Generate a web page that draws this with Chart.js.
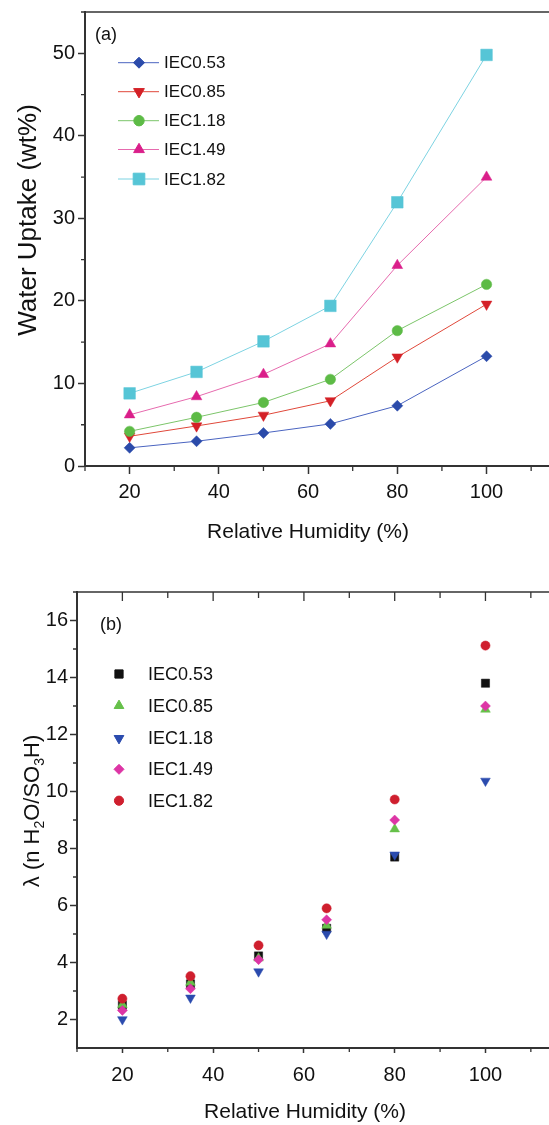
<!DOCTYPE html>
<html><head><meta charset="utf-8">
<script src="https://cdn.jsdelivr.net/npm/chart.js@4/dist/chart.umd.min.js"></script>
<style>
html,body{margin:0;padding:0;background:#fff;width:549px;height:1125px;overflow:hidden}
.box{position:absolute;left:0;width:549px}
#wa{top:0;height:560px}
#wb{top:560px;height:565px}
canvas{display:block}
</style></head><body>
<div class="box" id="wa"><canvas id="ca" width="549" height="560"></canvas></div>
<div class="box" id="wb"><canvas id="cb" width="549" height="565"></canvas></div>
<script>
// ---------- data ----------
const humidity = [20, 35, 50, 65, 80, 100];
const seriesNames = ['IEC0.53', 'IEC0.85', 'IEC1.18', 'IEC1.49', 'IEC1.82'];

// (a) water uptake, wt%
const uptake053 = [2.2, 3.0, 4.0, 5.1, 7.3, 13.3];
const uptake085 = [3.6, 4.85, 6.15, 7.9, 13.2, 19.6];
const uptake118 = [4.2, 5.9, 7.7, 10.5, 16.4, 22.0];
const uptake149 = [6.2, 8.4, 11.1, 14.8, 24.3, 35.0];
const uptake182 = [8.8, 11.4, 15.1, 19.4, 31.95, 49.8];

// (b) lambda, n H2O/SO3H
const lambda053 = [2.5, 3.25, 4.23, 5.2, 7.7, 13.8];
const lambda085 = [2.52, 3.3, 4.15, 5.3, 8.68, 12.88];
const lambda118 = [2.0, 2.76, 3.68, 5.0, 7.78, 10.37];
const lambda149 = [2.32, 3.08, 4.1, 5.5, 9.0, 13.0];
const lambda182 = [2.73, 3.52, 4.6, 5.9, 9.72, 15.12];

// ticks
const xTicks = [20, 40, 60, 80, 100];
const xMinorTicks = [10, 30, 50, 70, 90, 110];
const uptakeTicks = [0, 10, 20, 30, 40, 50];
const uptakeMinorTicks = [5, 15, 25, 35, 45, 55];
const lambdaTicks = [2, 4, 6, 8, 10, 12, 14, 16];
const lambdaMinorTicks = [3, 5, 7, 9, 11, 13, 15, 17];

// ---------- styles ----------
const FONT = '"Liberation Sans", Arial, Helvetica, sans-serif';
const AXIS = '#333333';
const TXT = '#111111';

const styleA = [
  {mark: '#2B4BAA', line: '#4A64C0', shape: 'rectRot', r: 5.5, rot: 0},
  {mark: '#D42027', line: '#E0483A', shape: 'triangle', r: 6.2, rot: 180},
  {mark: '#5DBB46', line: '#7CC56A', shape: 'circle', r: 5.2, rot: 0},
  {mark: '#DA1F8A', line: '#E66AAE', shape: 'triangle', r: 6.2, rot: 0},
  {mark: '#56C5D6', line: '#7DD3E2', shape: 'rect', r: 8.2, rot: 0}
];
const styleB = [
  {mark: '#111111', shape: 'rect', r: 5.8, rot: 0},
  {mark: '#66C04A', shape: 'triangle', r: 5.6, rot: 0},
  {mark: '#2B4BAE', shape: 'triangle', r: 5.6, rot: 180},
  {mark: '#DD35A5', shape: 'rectRot', r: 5.0, rot: 0},
  {mark: '#CF1F2E', shape: 'circle', r: 4.6, rot: 0}
];

const uptakeSeries = [uptake053, uptake085, uptake118, uptake149, uptake182];
const lambdaSeries = [lambda053, lambda085, lambda118, lambda149, lambda182];

function pts(vals) { return humidity.map((x, j) => ({x: x, y: vals[j]})); }

function zeroPad(s) { s.paddingLeft = 0; s.paddingRight = 0; s.paddingTop = 0; s.paddingBottom = 0; }

function drawMinorTicks(chart, cfg) {
  const ctx = chart.ctx, a = chart.chartArea;
  const xs = chart.scales.x, ys = chart.scales.y;
  ctx.save();
  ctx.strokeStyle = AXIS; ctx.lineWidth = 1.5;
  ctx.beginPath();
  ctx.moveTo(a.left - 1, a.top); ctx.lineTo(a.right + 2, a.top);
  ctx.stroke();
  ctx.lineWidth = 1.3;
  ctx.beginPath();
  cfg.xMinor.forEach(v => {
    const p = xs.getPixelForValue(v);
    if (p < a.left - 0.5 || p > a.right) return;
    ctx.moveTo(p, a.bottom); ctx.lineTo(p, a.bottom + cfg.xMinorLen);
    if (cfg.topTicks) { ctx.moveTo(p, a.top); ctx.lineTo(p, a.top + cfg.topMinorLen); }
  });
  if (cfg.topTicks) {
    cfg.xMajor.forEach(v => {
      const p = xs.getPixelForValue(v);
      ctx.moveTo(p, a.top); ctx.lineTo(p, a.top + cfg.topMajorLen);
    });
  }
  cfg.yMinor.forEach(v => {
    const p = ys.getPixelForValue(v);
    if (p < a.top - 0.5 || p > a.bottom + 0.5) return;
    ctx.moveTo(a.left, p); ctx.lineTo(a.left - cfg.yMinorLen, p);
  });
  ctx.stroke();
  ctx.restore();
}

function drawMarker(ctx, st, x, y) {
  ctx.fillStyle = st.mark; ctx.strokeStyle = st.mark;
  Chart.helpers.drawPoint(ctx, {pointStyle: st.shape, radius: st.r, rotation: st.rot, borderWidth: 0.5}, x, y);
}

// ---------- chart (a) ----------
const decorA = {
  id: 'decorA',
  afterDraw(chart) {
    const ctx = chart.ctx;
    drawMinorTicks(chart, {xMinor: xMinorTicks, xMajor: xTicks, yMinor: uptakeMinorTicks, xMinorLen: 5, yMinorLen: 4, topTicks: false});
    ctx.save();
    ctx.fillStyle = TXT;
    ctx.font = '18px ' + FONT; ctx.textAlign = 'left'; ctx.textBaseline = 'middle';
    ctx.fillText('(a)', 95, 35);
    const rows = [62.7, 91.7, 120.7, 149.5, 179];
    seriesNames.forEach((n, i) => {
      const st = styleA[i], y = rows[i];
      ctx.strokeStyle = st.line; ctx.lineWidth = 1;
      ctx.beginPath(); ctx.moveTo(118, y); ctx.lineTo(159, y); ctx.stroke();
      drawMarker(ctx, st, 139, y);
      ctx.fillStyle = TXT; ctx.font = '17px ' + FONT; ctx.textAlign = 'left'; ctx.textBaseline = 'middle';
      ctx.fillText(n, 164, y + 1);
    });
    ctx.fillStyle = TXT;
    ctx.font = '21px ' + FONT; ctx.textAlign = 'center'; ctx.textBaseline = 'middle';
    ctx.fillText('Relative Humidity (%)', 308, 532);
    ctx.save();
    ctx.translate(29, 220); ctx.rotate(-Math.PI / 2);
    ctx.font = '26px ' + FONT;
    ctx.fillText('Water Uptake (wt%)', 0, 0);
    ctx.restore();
    ctx.restore();
  }
};

new Chart(document.getElementById('ca'), {
  type: 'line',
  data: {
    datasets: uptakeSeries.map((d, i) => ({
      label: seriesNames[i],
      data: pts(d),
      borderColor: styleA[i].line,
      backgroundColor: styleA[i].mark,
      pointBackgroundColor: styleA[i].mark,
      pointBorderColor: styleA[i].mark,
      pointBorderWidth: 0.5,
      pointStyle: styleA[i].shape,
      pointRadius: styleA[i].r,
      pointRotation: styleA[i].rot,
      borderWidth: 1,
      tension: 0,
      fill: false,
      clip: 10,
      order: 4 - i
    }))
  },
  options: {
    responsive: false, animation: false,
    layout: {autoPadding: false, padding: {top: 12, left: 0, right: 0, bottom: 0}},
    plugins: {legend: {display: false}, tooltip: {enabled: false}},
    scales: {
      x: {
        type: 'linear', min: 10, max: 114,
        afterBuildTicks: s => { s.ticks = xTicks.map(v => ({value: v})); },
        afterFit: s => { s.height = 94; zeroPad(s); },
        grid: {drawOnChartArea: false, tickLength: 8, tickColor: AXIS, tickWidth: 1.5},
        border: {color: AXIS, width: 2},
        ticks: {font: {family: FONT, size: 20}, color: TXT, padding: 6, maxRotation: 0, autoSkip: false}
      },
      y: {
        type: 'linear', min: 0, max: 55,
        afterBuildTicks: s => { s.ticks = uptakeTicks.map(v => ({value: v})); },
        afterFit: s => { s.width = 85; zeroPad(s); },
        grid: {drawOnChartArea: false, tickLength: 7, tickColor: AXIS, tickWidth: 1.5},
        border: {color: AXIS, width: 2},
        ticks: {font: {family: FONT, size: 20}, color: TXT, padding: 3, autoSkip: false}
      }
    }
  },
  plugins: [decorA]
});

// ---------- chart (b) ----------
const decorB = {
  id: 'decorB',
  afterDraw(chart) {
    const ctx = chart.ctx;
    drawMinorTicks(chart, {xMinor: xMinorTicks, xMajor: xTicks, yMinor: lambdaMinorTicks, xMinorLen: 4, yMinorLen: 4,
      topTicks: true, topMajorLen: 9, topMinorLen: 6});
    ctx.save();
    ctx.fillStyle = TXT;
    ctx.font = '18px ' + FONT; ctx.textAlign = 'left'; ctx.textBaseline = 'middle';
    ctx.fillText('(b)', 100, 65);
    const rows = [114, 145.7, 178.3, 209.3, 240.7];
    seriesNames.forEach((n, i) => {
      const st = styleB[i], y = rows[i];
      drawMarker(ctx, st, 119, y);
      ctx.fillStyle = TXT; ctx.font = '18px ' + FONT; ctx.textAlign = 'left'; ctx.textBaseline = 'middle';
      ctx.fillText(n, 148, y + 1);
    });
    ctx.fillStyle = TXT;
    ctx.font = '21px ' + FONT; ctx.textAlign = 'center'; ctx.textBaseline = 'middle';
    ctx.fillText('Relative Humidity (%)', 305, 552);
    ctx.save();
    ctx.translate(31, 251); ctx.rotate(-Math.PI / 2);
    const main = '22px ' + FONT, sub = '14px ' + FONT;
    const parts = [['\u03BB (n H', main, 0], ['2', sub, 5], ['O/SO', main, 0], ['3', sub, 5], ['H)', main, 0]];
    let total = 0;
    parts.forEach(p => { ctx.font = p[1]; total += ctx.measureText(p[0]).width; });
    let x = -total / 2;
    ctx.textAlign = 'left'; ctx.textBaseline = 'alphabetic';
    parts.forEach(p => { ctx.font = p[1]; ctx.fillText(p[0], x, 8 + p[2]); x += ctx.measureText(p[0]).width; });
    ctx.restore();
    ctx.restore();
  }
};

new Chart(document.getElementById('cb'), {
  type: 'scatter',
  data: {
    datasets: lambdaSeries.map((d, i) => ({
      label: seriesNames[i],
      data: pts(d),
      backgroundColor: styleB[i].mark,
      borderColor: styleB[i].mark,
      pointBackgroundColor: styleB[i].mark,
      pointBorderColor: styleB[i].mark,
      pointBorderWidth: 0.5,
      pointStyle: styleB[i].shape,
      pointRadius: styleB[i].r,
      pointRotation: styleB[i].rot,
      showLine: false,
      clip: 10,
      order: 4 - i
    }))
  },
  options: {
    responsive: false, animation: false,
    layout: {autoPadding: false, padding: {top: 32, left: 0, right: 0, bottom: 0}},
    plugins: {legend: {display: false}, tooltip: {enabled: false}},
    scales: {
      x: {
        type: 'linear', min: 10, max: 114,
        afterBuildTicks: s => { s.ticks = xTicks.map(v => ({value: v})); },
        afterFit: s => { s.height = 77; zeroPad(s); },
        grid: {drawOnChartArea: false, tickLength: 5, tickColor: AXIS, tickWidth: 1.5},
        border: {color: AXIS, width: 2},
        ticks: {font: {family: FONT, size: 20}, color: TXT, padding: 10, maxRotation: 0, autoSkip: false}
      },
      y: {
        type: 'linear', min: 1, max: 17,
        afterBuildTicks: s => { s.ticks = lambdaTicks.map(v => ({value: v})); },
        afterFit: s => { s.width = 77; zeroPad(s); },
        grid: {drawOnChartArea: false, tickLength: 7, tickColor: AXIS, tickWidth: 1.5},
        border: {color: AXIS, width: 2},
        ticks: {font: {family: FONT, size: 20}, color: TXT, padding: 2, autoSkip: false}
      }
    }
  },
  plugins: [decorB]
});
</script>
</body></html>
